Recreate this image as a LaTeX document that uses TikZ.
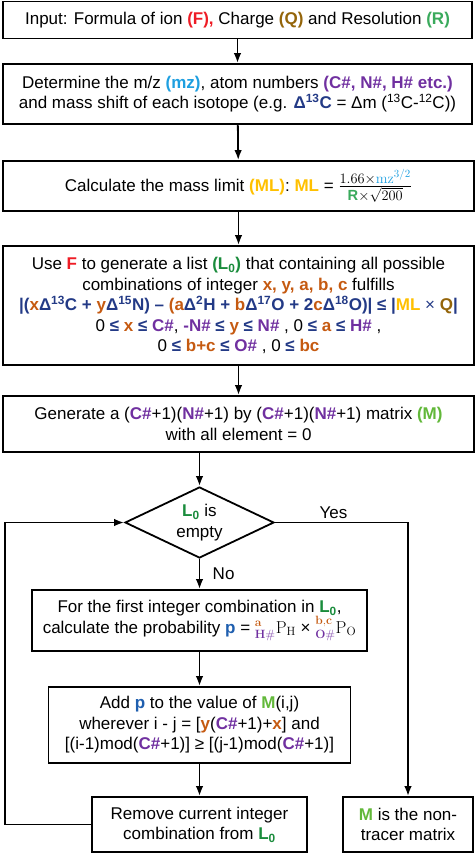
\documentclass[tikz,border=0pt]{standalone}
\usepackage{amsmath}
\usepackage[no-math]{fontspec}
\setmainfont{Liberation Sans}
\usetikzlibrary{shapes.geometric,arrows.meta}

\definecolor{cF}{HTML}{EE1C25}
\definecolor{cQ}{HTML}{94650A}
\definecolor{cR}{HTML}{3AAA5C}
\definecolor{cMZ}{HTML}{1E9FE0}
\definecolor{cAt}{HTML}{7030A0}
\definecolor{cDel}{HTML}{233A86}
\definecolor{cML}{HTML}{FFC000}
\definecolor{cL}{HTML}{1A8C3C}
\definecolor{cV}{HTML}{C55A11}
\definecolor{cP}{HTML}{1F5FAF}
\definecolor{cM}{HTML}{62B83A}

\newcommand{\hb}[2]{{\color{#1}\bfseries #2}}

\begin{document}
\begin{tikzpicture}
  [x=1pt,y=-1pt,line width=1.8pt,>={Latex[length=10pt,width=7.5pt]},
   every node/.style={font=\fontsize{17}{20.5}\selectfont,align=center},
   box/.style={draw,rectangle,inner sep=2pt},
   test/.style={draw,diamond,aspect=2,inner sep=0pt,minimum width=149pt,minimum height=71pt}]
  \useasboundingbox (0,0) rectangle (476,855);
  \node[box,minimum width=469pt,minimum height=37pt] (ninp) at (237.5,20)
    {Input: Formula of ion \hb{cF}{(F),} Charge \hb{cQ}{(Q)} and Resolution \hb{cR}{(R)}};
  \node[box,minimum width=469pt,minimum height=60pt] (ndet) at (237.5,94)
    {Determine the m/z \hb{cMZ}{(mz)}, atom numbers \hb{cAt}{(C\#, N\#, H\# etc.)}\\
     and mass shift of each isotope (e.g. \hb{cDel}{Δ\textsuperscript{13}C} = Δm (\textsuperscript{13}C-\textsuperscript{12}C))};
  \node[box,minimum width=471pt,minimum height=50pt] (nml) at (238.5,186)
    {Calculate the mass limit \hb{cML}{(ML)}: \hb{cML}{ML} =
     {\fontsize{21}{24}\selectfont$\frac{1.66\times\textcolor{cMZ}{\mathrm{mz}^{3/2}}}{\text{\hb{cR}{R}}\times\sqrt{200}}$}};
  \node[box,minimum width=471pt,minimum height=119pt] (ngen) at (238.5,305.5)
    {Use \hb{cF}{F} to generate a list \hb{cL}{(L\textsubscript{0})} that containing all possible\\
     combinations of integer \hb{cV}{x, y, a, b, c} fulfills\\
     {\bfseries\color{cDel}|(\hb{cV}{x}Δ\textsuperscript{13}C + \hb{cV}{y}Δ\textsuperscript{15}N) – \hb{cV}{(a}Δ\textsuperscript{2}H
      + \hb{cV}{b}Δ\textsuperscript{17}O + 2\hb{cV}{c}Δ\textsuperscript{18}O)| ≤ |\hb{cML}{ML} {\mdseries ×} \hb{cQ}{Q}|}\\
     0 \hb{cDel}{≤} \hb{cV}{x} \hb{cDel}{≤} \hb{cAt}{C\#}, \hb{cAt}{-N\#} \hb{cDel}{≤} \hb{cV}{y} \hb{cDel}{≤} \hb{cAt}{N\#} ,
      0 \hb{cDel}{≤} \hb{cV}{a} \hb{cDel}{≤} \hb{cAt}{H\#} ,\\
     0 \hb{cDel}{≤} \hb{cV}{b+c} \hb{cDel}{≤} \hb{cAt}{O\#} , 0 \hb{cDel}{≤} \hb{cV}{bc}};
  \node[box,minimum width=471pt,minimum height=56pt] (nmat) at (238.5,424)
    {Generate a (\hb{cAt}{C\#}+1)(\hb{cAt}{N\#}+1) by (\hb{cAt}{C\#}+1)(\hb{cAt}{N\#}+1) matrix \hb{cM}{(M)}\\
     with all element = 0};
  \node[test] (ndec) at (199.5,522.5) {\hb{cL}{L\textsubscript{0}} is\\empty};
  \node[box,minimum width=335pt,minimum height=61pt] (nfst) at (199.5,620.5)
    {For the first integer combination in \hb{cL}{L\textsubscript{0}},\\
     calculate the probability \hb{cP}{p} =
     ${}^{\textcolor{cV}{\mathbf{a}}}_{\textcolor{cAt}{\mathbf{H\#}}}\mathrm{P}_{\mathrm{H}}$ ×
     ${}^{\textcolor{cV}{\mathbf{b,c}}}_{\textcolor{cAt}{\mathbf{O\#}}}\mathrm{P}_{\mathrm{O}}$};
  \node[box,minimum width=302pt,minimum height=76pt] (nadd) at (199.5,725)
    {Add \hb{cP}{p} to the value of \hb{cM}{M}(i,j)\\
     wherever i - j = {[}\hb{cV}{y}(\hb{cAt}{C\#}+1)+\hb{cV}{x}] and\\
     {[}(i-1)mod(\hb{cAt}{C\#}+1)] ≥ [(j-1)mod(\hb{cAt}{C\#}+1)]};
  \node[box,minimum width=215pt,minimum height=55pt] (nrem) at (199.5,824.5)
    {Remove current integer\\combination from \hb{cL}{L\textsubscript{0}}};
  \node[box,minimum width=130pt,minimum height=55pt] (nres) at (408,824.5)
    {\hb{cM}{M} is the non-\\tracer matrix};
  \coordinate (nlp) at (5,522.5);
  \foreach \from/\to in {ninp/ndet,ndet/nml,nml/ngen,ngen/nmat,nfst/nadd,nadd/nrem}
    \draw[->] (\from) -- (\to);
  \draw[->] (nmat.south -| ndec) -- (ndec);
  \draw[->] (ndec) -- (nfst) node[midway,right,xshift=9pt] {No};
  \draw[->] (ndec.east) -| (nres.north) node[pos=.22,above] {Yes};
  \draw[->] (nrem.west) -| (nlp) -- (ndec.west);
\end{tikzpicture}
\end{document}
